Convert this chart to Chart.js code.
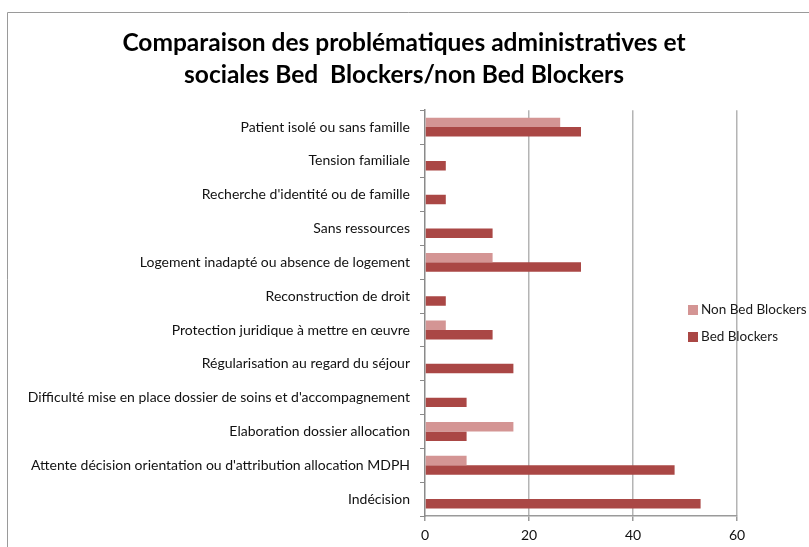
<html>
  <head>
    <script src="https://cdn.jsdelivr.net/npm/chart.js"></script>
    <meta charset="UTF-8" />
    <style>
      body { margin: 0; background: #fff; }
    </style>
  </head>
  <body>
    <div style="width: 809px; height: 547px">
      <canvas id="myChart" width="809" height="547"></canvas>
    </div>
    <script>
      const categories = [
        "Patient isolé ou sans famille",
        "Tension familiale",
        "Recherche d'identité ou de famille",
        "Sans ressources",
        "Logement inadapté ou absence de logement",
        "Reconstruction de droit",
        "Protection juridique à mettre en œuvre",
        "Régularisation au regard du séjour",
        "Difficulté mise en place dossier de soins et d'accompagnement",
        "Elaboration dossier allocation",
        "Attente décision orientation ou d'attribution allocation MDPH",
        "Indécision",
      ];
      const nonBedBlockers = [26, 0, 0, 0, 13, 0, 4, 0, 0, 17, 8, 0];
      const bedBlockers = [30, 4, 4, 13, 30, 4, 13, 17, 8, 8, 48, 53];
      const xTicks = [0, 20, 40, 60];

      const font = "Lato, 'Open Sans', sans-serif";

      // frame lines of the original chart box
      const framePlugin = {
        id: "frame",
        beforeDraw(chart) {
          const ctx = chart.ctx;
          ctx.save();
          ctx.strokeStyle = "#9a9a9a";
          ctx.lineWidth = 1;
          ctx.beginPath();
          ctx.moveTo(7.5, chart.height);
          ctx.lineTo(7.5, 12.5);
          ctx.lineTo(chart.width, 12.5);
          ctx.stroke();
          ctx.restore();
        },
      };

      // legend drawn over the plot, like the original
      const legendPlugin = {
        id: "sideLegend",
        afterDraw(chart) {
          const ctx = chart.ctx;
          ctx.save();
          ctx.font = "13.5px " + font;
          ctx.textBaseline = "middle";
          chart.data.datasets.forEach((ds, i) => {
            const y = 310 + i * 27;
            ctx.fillStyle = ds.backgroundColor;
            ctx.fillRect(688, y - 5, 10, 10);
            ctx.fillStyle = "#1a1a1a";
            ctx.fillText(ds.label, 701, y);
          });
          ctx.restore();
        },
      };

      const config = {
        type: "bar",
        data: {
          labels: categories,
          datasets: [
            {
              label: "Non Bed Blockers",
              data: nonBedBlockers,
              backgroundColor: "#d49594",
              categoryPercentage: 0.56,
              barPercentage: 1,
            },
            {
              label: "Bed Blockers",
              data: bedBlockers,
              backgroundColor: "#aa4745",
              categoryPercentage: 0.56,
              barPercentage: 1,
            },
          ],
        },
        options: {
          indexAxis: "y",
          responsive: false,
          animation: false,
          layout: { padding: { left: 10, right: 11, top: 12, bottom: 0 } },
          scales: {
            x: {
              min: 0,
              max: 60,
              afterBuildTicks: (s) => {
                s.ticks = xTicks.map((v) => ({ value: v }));
              },
              afterFit: (s) => {
                s.height = 31;
              },
              grid: {
                color: (c) => (c.tick && c.tick.value === 0 ? "rgba(0,0,0,0)" : "#b4b4b4"),
                lineWidth: 1.5,
                tickLength: 5,
                tickColor: "#9a9a9a",
              },
              border: { display: true, color: "#9a9a9a", width: 1.5 },
              ticks: {
                color: "#111",
                font: { family: font, size: 14 },
                padding: 6,
              },
            },
            y: {
              afterFit: (s) => {
                s.width = 415;
              },
              grid: {
                drawOnChartArea: false,
                offset: true,
                tickLength: 5,
                tickColor: "#8a8a8a",
              },
              border: { display: true, color: "#8a8a8a", width: 1.5 },
              ticks: {
                color: "#111",
                font: { family: font, size: 14 },
                padding: 10,
                autoSkip: false,
              },
            },
            // empty right-hand box: keeps the legend area inside the frame
            pad: {
              type: "linear",
              position: "right",
              display: true,
              grid: { display: false },
              border: { display: false },
              ticks: { display: false },
              afterFit: (s) => {
                s.width = 61;
              },
            },
          },
          plugins: {
            legend: { display: false },
            tooltip: { enabled: false },
            title: {
              display: true,
              text: [
                "Comparaison des problématiques administratives et",
                "sociales Bed  Blockers/non Bed Blockers",
              ],
              color: "#000",
              font: { family: font, size: 24.5, weight: "bold", lineHeight: 1.31 },
              padding: { top: 15, bottom: 19 },
            },
          },
        },
        plugins: [framePlugin, legendPlugin],
      };

      new Chart(document.getElementById("myChart"), config);
    </script>
  </body>
</html>
